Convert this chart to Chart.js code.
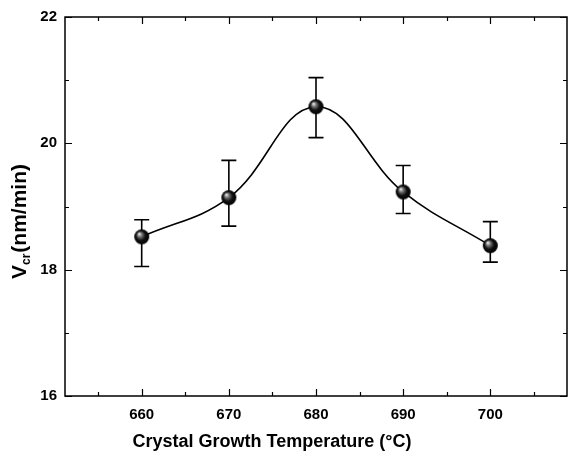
<!DOCTYPE html>
<html>
<head>
<meta charset="utf-8">
<script src="https://cdn.jsdelivr.net/npm/chart.js@4.4.1/dist/chart.umd.min.js"></script>
<style>
    html, body { margin: 0; padding: 0; background: #fff; }
    #wrap { width: 568px; height: 460px; position: relative; }
</style>
</head>
<body>
<div id="wrap"><canvas id="chart"></canvas></div>
<script>
// data
const temps = [660, 670, 680, 690, 700];
const rate = [18.52, 19.14, 20.58, 19.23, 18.38];
const errUpper = [18.79, 19.73, 21.04, 19.65, 18.76];
const errLower = [18.05, 18.69, 20.09, 18.89, 18.12];

const xTicks = [660, 670, 680, 690, 700];
const xMinor = [655, 665, 675, 685, 695, 705];
const yTicks = [16, 18, 20, 22];
const yMinor = [17, 19, 21];

const FONT = '"Liberation Sans", Arial, sans-serif';

// shaded ball used as the point marker
const makeBall = (r) => {
    const c = document.createElement('canvas');
    c.width = c.height = r * 2 + 2;
    const g = c.getContext('2d');
    const cx = r + 1, cy = r + 1;
    const grad = g.createRadialGradient(cx - r * 0.35, cy - r * 0.4, 0.5, cx, cy, r);
    grad.addColorStop(0, '#e8e8e8');
    grad.addColorStop(0.25, '#777');
    grad.addColorStop(0.6, '#111');
    grad.addColorStop(1, '#000');
    g.fillStyle = grad;
    g.beginPath();
    g.arc(cx, cy, r, 0, Math.PI * 2);
    g.fill();
    return c;
};

const errorBars = {
    id: 'errorBars',
    beforeDatasetsDraw(chart) {
        const { ctx, scales: { x, y } } = chart;
        ctx.save();
        ctx.strokeStyle = '#000';
        ctx.lineWidth = 1.6;
        temps.forEach((t, i) => {
            const px = x.getPixelForValue(t);
            const top = y.getPixelForValue(errUpper[i]);
            const bot = y.getPixelForValue(errLower[i]);
            ctx.beginPath();
            ctx.moveTo(px, top); ctx.lineTo(px, bot);
            ctx.moveTo(px - 7.5, top); ctx.lineTo(px + 7.5, top);
            ctx.moveTo(px - 7.5, bot); ctx.lineTo(px + 7.5, bot);
            ctx.stroke();
        });
        ctx.restore();
    }
};

const frame = {
    id: 'frame',
    afterDraw(chart) {
        const { ctx, chartArea: a, scales: { x, y } } = chart;
        ctx.save();
        ctx.strokeStyle = '#000';
        ctx.lineWidth = 1.5;
        ctx.strokeRect(a.left, a.top, a.right - a.left, a.bottom - a.top);
        ctx.lineWidth = 1.2;
        ctx.beginPath();
        const vx = (v, len) => {
            const px = Math.round(x.getPixelForValue(v)) + 0.5;
            ctx.moveTo(px, a.bottom); ctx.lineTo(px, a.bottom - len);
            ctx.moveTo(px, a.top); ctx.lineTo(px, a.top + len);
        };
        const hy = (v, len) => {
            const py = Math.round(y.getPixelForValue(v)) + 0.5;
            ctx.moveTo(a.left, py); ctx.lineTo(a.left + len, py);
            ctx.moveTo(a.right, py); ctx.lineTo(a.right - len, py);
        };
        xTicks.forEach(v => vx(v, 7));
        xMinor.forEach(v => vx(v, 4));
        yTicks.forEach(v => hy(v, 7));
        yMinor.forEach(v => hy(v, 4));
        ctx.stroke();

        // axis titles
        ctx.fillStyle = '#000';
        ctx.font = 'bold 18px ' + FONT;
        ctx.textAlign = 'center';
        ctx.textBaseline = 'alphabetic';
        ctx.fillText('Crystal Growth Temperature (°C)', 272, 447);

        ctx.translate(26, 0);
        ctx.rotate(-Math.PI / 2);
        ctx.textAlign = 'left';
        let pos = -279;
        ctx.font = 'bold 21px ' + FONT;
        ctx.fillText('V', pos, 0);
        pos += ctx.measureText('V').width;
        ctx.font = 'bold 12px ' + FONT;
        ctx.fillText('cr', pos, 4);
        pos += ctx.measureText('cr').width + 1;
        ctx.font = 'bold 21px ' + FONT;
        ctx.fillText('(nm/min)', pos, 0);
        ctx.restore();
    }
};

const ctx = document.getElementById('chart').getContext('2d');
new Chart(ctx, {
    type: 'line',
    data: {
        datasets: [{
            data: temps.map((t, i) => ({ x: t, y: rate[i] })),
            borderColor: '#000',
            borderWidth: 1.6,
            tension: 0.4,
            pointStyle: makeBall(7.5),
            pointRadius: 7.5,
            pointHoverRadius: 7.5,
            fill: false,
        }],
    },
    options: {
        responsive: true,
        maintainAspectRatio: false,
        animation: false,
        events: [],
        layout: { autoPadding: false, padding: { left: 0, right: 1, top: 15, bottom: 0 } },
        plugins: { legend: { display: false }, tooltip: { enabled: false } },
        scales: {
            x: {
                type: 'linear',
                min: 651.2,
                max: 708.8,
                afterBuildTicks: (scale) => { scale.ticks = xTicks.map(v => ({ value: v })); },
                afterFit: (scale) => {
                    scale.height = 64;
                    scale.paddingLeft = 0;
                    scale.paddingRight = 0;
                },
                grid: { display: false, drawTicks: false },
                border: { display: false },
                ticks: {
                    color: '#000',
                    padding: 10,
                    font: { family: FONT, size: 15, weight: 'bold' },
                },
            },
            y: {
                min: 16,
                max: 22,
                afterBuildTicks: (scale) => { scale.ticks = yTicks.map(v => ({ value: v })); },
                afterFit: (scale) => { scale.width = 65; },
                grid: { display: false, drawTicks: false },
                border: { display: false },
                ticks: {
                    color: '#000',
                    padding: 8,
                    font: { family: FONT, size: 15, weight: 'bold' },
                },
            },
        },
    },
    plugins: [errorBars, frame],
});
</script>
</body>
</html>
